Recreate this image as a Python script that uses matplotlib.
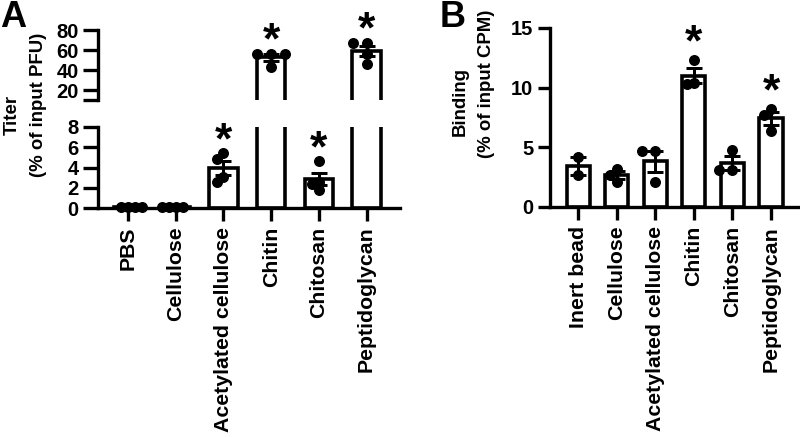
import numpy as np
import matplotlib
matplotlib.use("Agg")
import matplotlib.pyplot as plt

plt.rcParams['font.family'] = ['Liberation Sans', 'DejaVu Sans']
plt.rcParams['font.weight'] = 'bold'

# ---------------- data ----------------
a_categories = ["PBS", "Cellulose", "Acetylated cellulose", "Chitin", "Chitosan", "Peptidoglycan"]
a_pbs = [0.1, 0.1, 0.1, 0.1]
a_cellulose = [0.1, 0.1, 0.1, 0.1]
a_acetylated = [5.4, 4.8, 3.1, 2.6]
a_chitin = [56, 56, 56, 43]
a_chitosan = [4.6, 2.6, 2.4, 1.8]
a_peptidoglycan = [67, 67, 56.5, 46.4]
a_significant = [False, False, True, True, True, True]
a_low_ticks = [0, 2, 4, 6, 8]
a_high_ticks = [10, 20, 40, 60, 80]
a_high_labels = ["", "20", "40", "60", "80"]

b_categories = ["Inert bead", "Cellulose", "Acetylated cellulose", "Chitin", "Chitosan", "Peptidoglycan"]
b_inert = [4.2, 2.7]
b_cellulose = [3.2, 2.7, 2.1]
b_acetylated = [4.7, 4.7, 2.1]
b_chitin = [12.3, 10.4, 10.3]
b_chitosan = [4.8, 3.1, 3.1]
b_peptidoglycan = [8.2, 7.7, 6.4]
b_significant = [False, False, False, True, False, True]
b_ticks = [0, 5, 10, 15]

a_groups = [a_pbs, a_cellulose, a_acetylated, a_chitin, a_chitosan, a_peptidoglycan]
b_groups = [b_inert, b_cellulose, b_acetylated, b_chitin, b_chitosan, b_peptidoglycan]

# ---------------- style ----------------
W, H = 800, 437
LW = 2.4
BAR_LW = 2.6
BAR_W = 0.6
MS = 6.9            # marker size (points)
TICK_FS = 14.5
CAT_FS = 15.3
LAB_FS = 13.4
STAR_FS = 32


def mean_sem(v):
    v = np.asarray(v, float)
    m = v.mean()
    s = v.std(ddof=1) / np.sqrt(len(v)) if len(v) > 1 else 0.0
    return m, s


def px_axes(fig, x0, y0, x1, y1):
    # pixel box (top-left origin) -> figure axes
    return fig.add_axes([x0 / W, 1 - y1 / H, (x1 - x0) / W, (y1 - y0) / H])


def swarm(ax_for_value, xc, values, fig):
    """Greedy beeswarm in display space; returns x positions in data units."""
    d = MS / 72 * fig.dpi
    step = 0.72 * d
    order = np.argsort(-np.asarray(values, float))
    placed = []
    xs = np.zeros(len(values))
    cands = [0]
    for j in range(1, 8):
        cands += [-j, j]
    for i in order:
        v = values[i]
        ax = ax_for_value(v)
        xd0, yd = ax.transData.transform((xc, v))
        for c in cands:
            xd = xd0 + c * step
            if all((xd - px) ** 2 + (yd - py) ** 2 >= (0.72 * d) ** 2 for px, py in placed):
                break
        placed.append((xd, yd))
        xs[i] = ax.transData.inverted().transform((xd, yd))[0]
    return xs


def style_axis(ax, ticklen):
    for s in ["top", "right"]:
        ax.spines[s].set_visible(False)
    for s in ["left", "bottom"]:
        ax.spines[s].set_linewidth(LW)
    ax.tick_params(axis="both", width=LW, length=ticklen, labelsize=TICK_FS, pad=3)


def ylabel_text(x_base, y_center, s):
    fig.text(x_base / W, 1 - y_center / H, s, rotation=90, rotation_mode="anchor",
             ha="center", va="baseline", fontsize=LAB_FS, fontweight="bold")


fig = plt.figure(figsize=(W / 100, H / 100), dpi=100)

# ---------------- Panel A (broken axis) ----------------
xA = np.arange(len(a_categories))
axA_hi = px_axes(fig, 98, 30, 400, 100)
axA_lo = px_axes(fig, 98, 127, 400, 208)
for ax in (axA_hi, axA_lo):
    ax.set_xlim(-0.63, 5.7)
axA_hi.set_ylim(10, 80)
axA_lo.set_ylim(0, 8)

style_axis(axA_hi, 11)
style_axis(axA_lo, 11)
axA_hi.spines["bottom"].set_visible(False)
axA_hi.tick_params(axis="x", bottom=False, labelbottom=False)
axA_hi.set_yticks(a_high_ticks)
axA_hi.set_yticklabels(a_high_labels)
axA_lo.set_yticks(a_low_ticks)
axA_lo.set_xticks(xA)
axA_lo.set_xticklabels(a_categories, rotation=90, fontsize=CAT_FS)
axA_lo.tick_params(axis="x", length=9.5, pad=4)

a_means = [mean_sem(g)[0] for g in a_groups]
a_sems = [mean_sem(g)[1] for g in a_groups]


def ax_for_A(v):
    return axA_hi if v >= 9 else axA_lo


for ax in (axA_hi, axA_lo):
    ax.bar(xA, a_means, width=BAR_W, facecolor="white", edgecolor="black",
           linewidth=BAR_LW, zorder=2)
    ax.errorbar(xA, a_means, yerr=a_sems, fmt="none", ecolor="black",
                elinewidth=LW * 0.9, capsize=6, capthick=LW * 0.9, zorder=3)

for i, g in enumerate(a_groups):
    xs = swarm(ax_for_A, xA[i], g, fig)
    for xv, yv in zip(xs, g):
        ax = ax_for_A(yv)
        ax.plot([xv], [yv], "o", color="black", ms=MS, zorder=5, clip_on=False)
    if a_significant[i]:
        top = max(g)
        ax = ax_for_A(top)
        ax.annotate("*", xy=(xA[i], top), xytext=(0, 8.5), textcoords="offset points",
                    ha="center", va="center", fontsize=STAR_FS, fontweight="bold",
                    annotation_clip=False)

ylabel_text(17, 115, "Titer")
ylabel_text(43, 104.5, "(% of input PFU)")
fig.text(0 / W, 1 - 0 / H, "A", ha="left", va="top", fontsize=26, fontweight="bold")

# ---------------- Panel B ----------------
xB = np.arange(len(b_categories))
axB = px_axes(fig, 550, 28, 800, 207)
axB.set_xlim(-0.73, 5.75)
axB.set_ylim(0, 15)
style_axis(axB, 9)
axB.set_yticks(b_ticks)
axB.set_xticks(xB)
axB.set_xticklabels(b_categories, rotation=90, fontsize=CAT_FS)
axB.tick_params(axis="x", length=9.5, pad=4)

b_means = [mean_sem(g)[0] for g in b_groups]
b_sems = [mean_sem(g)[1] for g in b_groups]
axB.bar(xB, b_means, width=BAR_W, facecolor="white", edgecolor="black",
        linewidth=BAR_LW, zorder=2)
axB.errorbar(xB, b_means, yerr=b_sems, fmt="none", ecolor="black",
             elinewidth=LW * 0.9, capsize=6, capthick=LW * 0.9, zorder=3)
for i, g in enumerate(b_groups):
    xs = swarm(lambda v: axB, xB[i], g, fig)
    axB.plot(xs, g, "o", color="black", ms=MS, zorder=5, clip_on=False, linestyle="none")
    if b_significant[i]:
        axB.annotate("*", xy=(xB[i], max(g)), xytext=(0, 11.5), textcoords="offset points",
                     ha="center", va="center", fontsize=STAR_FS, fontweight="bold",
                     annotation_clip=False)

ylabel_text(465, 102, "Binding")
ylabel_text(491, 83.5, "(% of input CPM)")
fig.text(440 / W, 1 - 0 / H, "B", ha="left", va="top", fontsize=26, fontweight="bold")

fig.savefig("out.png", dpi=100)
